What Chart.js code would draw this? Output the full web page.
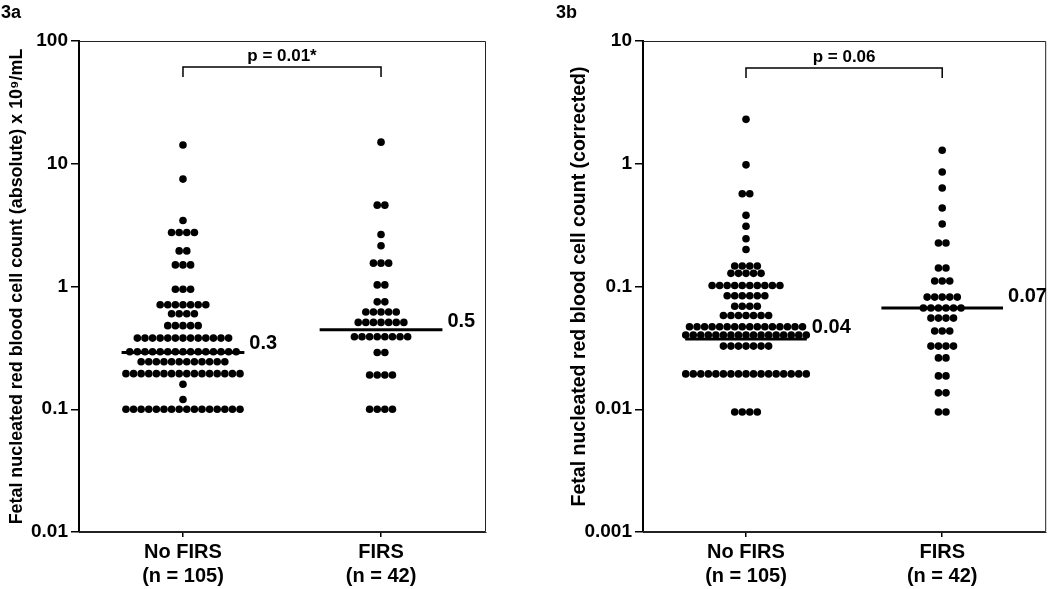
<!DOCTYPE html>
<html>
<head>
<meta charset="utf-8">
<script src="https://cdn.jsdelivr.net/npm/chart.js@4.4.1/dist/chart.umd.min.js"></script>
<style>
  html, body { margin: 0; padding: 0; background: #fff; }
  #wrap { position: relative; width: 1050px; height: 589px; overflow: hidden; }
  canvas { position: absolute; top: 0; }
</style>
</head>
<body>
<div id="wrap">
  <canvas id="panelA" width="525" height="589" style="left:0"></canvas>
  <canvas id="panelB" width="525" height="589" style="left:525px"></canvas>
</div>
<script>
// categories
const groups = ['No FIRS', 'FIRS'];
const groupSizes = ['(n = 105)', '(n = 42)'];

// 3a: absolute count, one entry per row of dots (value, how many dots)
const noFirsAbsValues = [14.2, 7.5, 3.45, 2.75, 1.95, 1.5, 0.95, 0.71, 0.6, 0.48, 0.38, 0.294, 0.244, 0.195, 0.16, 0.12, 0.1];
const noFirsAbsCounts = [1, 1, 1, 4, 2, 3, 3, 7, 4, 5, 13, 15, 12, 16, 1, 1, 16];
const firsAbsValues = [15, 4.6, 2.65, 2.15, 1.55, 1.03, 0.75, 0.62, 0.51, 0.39, 0.29, 0.19, 0.1];
const firsAbsCounts = [1, 2, 1, 1, 3, 2, 2, 5, 7, 8, 2, 4, 4];
const absMedians = [0.29, 0.445];
const absMedianLabels = ['0.3', '0.5'];
const absTicks = [0.01, 0.1, 1, 10, 100];
const absTickLabels = ['0.01', '0.1', '1', '10', '100'];
const absBracket = [50.8, 61.4];   // foot, top
const absP = 'p = 0.01*';

// 3b: corrected count
const noFirsCorrValues = [2.3, 0.98, 0.57, 0.38, 0.31, 0.245, 0.2, 0.147, 0.128, 0.102, 0.084, 0.069, 0.058, 0.047, 0.0403, 0.0327, 0.0194, 0.0095];
const noFirsCorrCounts = [1, 1, 2, 1, 1, 1, 1, 4, 5, 10, 6, 4, 7, 16, 17, 7, 17, 4];
const firsCorrValues = [1.29, 0.857, 0.634, 0.436, 0.323, 0.226, 0.1415, 0.111, 0.082, 0.0668, 0.0553, 0.0434, 0.0327, 0.0262, 0.0187, 0.0136, 0.0095];
const firsCorrCounts = [1, 1, 1, 1, 1, 2, 2, 3, 5, 6, 4, 3, 4, 2, 2, 2, 2];
const corrMedians = [0.0373, 0.0668];
const corrMedianLabels = ['0.04', '0.07'];
const corrTicks = [0.001, 0.01, 0.1, 1, 10];
const corrTickLabels = ['0.001', '0.01', '0.1', '1', '10'];
const corrBracket = [5.0, 6.03];
const corrP = 'p = 0.06';

const FONT = '"Liberation Sans", Arial, Helvetica, sans-serif';
const DOT_STEP = 0.0384;   // horizontal gap between dots in a row, x units
const MEDIAN_HALF = 0.31;

Chart.defaults.font.family = FONT;
Chart.defaults.color = '#000';
Chart.defaults.animation = false;

// spread each row of equal values sideways around the group centre
function swarm(values, counts, centre) {
  const pts = [];
  values.forEach((v, r) => {
    const n = counts[r];
    for (let i = 0; i < n; i++) {
      pts.push({ x: centre + (i - (n - 1) / 2) * DOT_STEP, y: v });
    }
  });
  return pts;
}

const annotate = {
  id: 'annotate',
  beforeDatasetsDraw(chart) {
    // thin frame on top, right and bottom
    const { ctx, chartArea: a } = chart;
    ctx.save();
    ctx.strokeStyle = '#222';
    ctx.lineWidth = 1;
    ctx.beginPath();
    ctx.moveTo(a.left, a.top + 0.5);
    ctx.lineTo(a.right - 0.5, a.top + 0.5);
    ctx.lineTo(a.right - 0.5, a.bottom - 0.5);
    ctx.lineTo(a.left, a.bottom - 0.5);
    ctx.stroke();
    ctx.restore();
  },
  afterDraw(chart, args, o) {
    const { ctx, scales: { x, y } } = chart;
    ctx.save();
    ctx.fillStyle = '#000';
    // median values
    ctx.font = 'bold 20px ' + FONT;
    ctx.textAlign = 'left';
    ctx.textBaseline = 'alphabetic';
    o.medians.forEach((m, i) => {
      ctx.fillText(o.medianLabels[i], x.getPixelForValue(i + 1 + MEDIAN_HALF) + 5, y.getPixelForValue(m) - o.lift);
    });
    // p value over the bracket
    ctx.font = 'bold 17px ' + FONT;
    ctx.textAlign = 'center';
    ctx.fillText(o.pText, x.getPixelForValue(1.5), y.getPixelForValue(o.bracket[1]) - 6);
    // panel label
    ctx.font = 'bold 18px ' + FONT;
    ctx.textAlign = 'left';
    ctx.textBaseline = 'top';
    ctx.fillText(o.panel, o.panelX, 4);
    ctx.restore();
  }
};

function makePanel(id, cfg) {
  const datasets = [
    { data: swarm(cfg.noFirsValues, cfg.noFirsCounts, 1) },
    { data: swarm(cfg.firsValues, cfg.firsCounts, 2) }
  ].map(d => Object.assign(d, {
    pointRadius: 3.8, pointHoverRadius: 3.8, backgroundColor: '#000', borderWidth: 0
  }));
  cfg.medians.forEach((m, i) => {
    datasets.push({
      data: [{ x: i + 1 - MEDIAN_HALF, y: m }, { x: i + 1 + MEDIAN_HALF, y: m }],
      showLine: true, pointRadius: 0, borderColor: '#000', borderWidth: 3
    });
  });
  const [foot, top] = cfg.bracket;
  datasets.push({
    data: [{ x: 1, y: foot }, { x: 1, y: top }, { x: 2, y: top }, { x: 2, y: foot }],
    showLine: true, pointRadius: 0, borderColor: '#000', borderWidth: 1.5
  });

  return new Chart(document.getElementById(id), {
    type: 'scatter',
    data: { datasets },
    plugins: [annotate],
    options: {
      responsive: false,
      events: [],
      layout: { padding: { top: 41, right: cfg.padRight, left: 0, bottom: 0 } },
      plugins: {
        legend: { display: false },
        tooltip: { enabled: false },
        annotate: {
          medians: cfg.medians, medianLabels: cfg.medianLabels, lift: cfg.lift,
          pText: cfg.pText, bracket: cfg.bracket, panel: cfg.panel, panelX: cfg.panelX
        }
      },
      scales: {
        x: {
          type: 'linear', min: 0.475, max: 2.53,
          afterBuildTicks: s => { s.ticks = [1, 2].map(v => ({ value: v })); },
          afterFit: s => { s.height = 57; },
          ticks: {
            callback: (v, i) => [groups[i], groupSizes[i]],
            font: { size: 20, weight: 'bold', lineHeight: 1.2 },
            color: '#000', padding: 3, maxRotation: 0, autoSkip: false
          },
          grid: { drawOnChartArea: false, tickLength: 5, color: '#000', lineWidth: 1.5 },
          border: { color: '#222', width: 1 }
        },
        y: {
          type: 'logarithmic', min: cfg.ticks[0], max: cfg.ticks[cfg.ticks.length - 1],
          afterBuildTicks: s => { s.ticks = cfg.ticks.map(v => ({ value: v })); },
          afterFit: s => { s.width = cfg.axisWidth; },
          ticks: {
            callback: (v, i) => cfg.tickLabels[i],
            font: { size: 19, weight: 'bold' },
            color: '#000', padding: 3
          },
          grid: { drawOnChartArea: false, tickLength: 8, color: '#000', lineWidth: 1.5 },
          border: { color: '#000', width: 2 },
          title: {
            display: true, text: cfg.title, color: '#000',
            font: { size: cfg.titleSize, weight: 'bold' },
            padding: { top: cfg.titlePad, bottom: 0 }
          }
        }
      }
    }
  });
}

makePanel('panelA', {
  noFirsValues: noFirsAbsValues, noFirsCounts: noFirsAbsCounts,
  firsValues: firsAbsValues, firsCounts: firsAbsCounts,
  medians: absMedians, medianLabels: absMedianLabels, lift: 3,
  ticks: absTicks, tickLabels: absTickLabels,
  bracket: absBracket, pText: absP,
  title: 'Fetal nucleated red blood cell count (absolute) x 10\u2079/mL',
  titleSize: 17.9, titlePad: 6, axisWidth: 79, padRight: 39, panel: '3a', panelX: 1
});

makePanel('panelB', {
  noFirsValues: noFirsCorrValues, noFirsCounts: noFirsCorrCounts,
  firsValues: firsCorrValues, firsCounts: firsCorrCounts,
  medians: corrMedians, medianLabels: corrMedianLabels, lift: 6,
  ticks: corrTicks, tickLabels: corrTickLabels,
  bracket: corrBracket, pText: corrP,
  title: 'Fetal nucleated red blood cell count (corrected)',
  titleSize: 19.5, titlePad: 43, axisWidth: 118, padRight: 1, panel: '3b', panelX: 31
});
</script>
</body>
</html>
